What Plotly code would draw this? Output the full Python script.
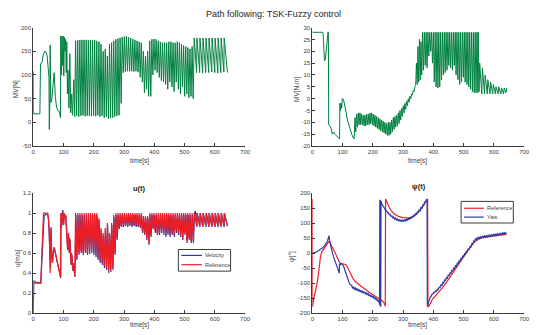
import plotly.graph_objects as go

# ---------------- data ----------------
mvn_t = [0, 0.5, 22, 24, 29, 33, 38, 42, 46, 50, 52, 53, 55, 56, 58, 61, 65, 69, 73, 77, 82, 87, 90,
         91, 93, 95, 97, 99, 101, 103, 105, 107, 109, 111, 113, 115, 118, 121, 124, 127, 130, 134, 137,
         140, 143.5, 147, 150.5, 154, 157.5, 161, 164.5, 168, 171.5, 175, 178.5, 182, 185.5, 189, 192.5,
         196, 199.5, 203, 206.5, 210, 213.5, 217, 220.5, 224, 227.5, 231, 234.5, 238, 241.5, 245, 248.5,
         252, 255.5, 259, 262.5, 266, 269.5, 273, 276.5, 280, 283.5, 287, 290.5, 294, 297.5,
         301, 304.5, 308, 311.5, 315, 318.5, 322, 325.5, 329, 332.5, 336, 339.5, 343, 346.5, 350, 353.5,
         357, 360.5, 364, 367.5, 371, 374.5, 378, 381.5, 385, 388.5, 392, 395.5, 399, 402.5, 406, 409.5,
         413, 416.5, 420, 423.5, 427, 430.5, 434, 437.5, 441, 444.5, 448, 451.5, 455, 458.5, 462, 465.5,
         469, 472.5, 476, 479.5, 483, 486.5, 490, 493.5, 497, 500.5, 504, 507.5, 511, 514.5, 518, 521.5,
         525, 528.5,
         532, 540, 541, 550, 551, 560, 561, 570, 571, 580, 581, 590, 591, 600, 601, 610, 611, 620, 621,
         630, 631, 642]
mvn_v = [108, 18, 18, 124, 126, 142, 150, 149, 140, 118, 95, -15, 45, 163, 42, 45, 75, 105, 55, 32, 25, 23, 10,
         182, 100, 182, 120, 182, 98, 180, 150, 175, 105, 170, 60, 110, 30, 145, 20, 60, 15, 90, 12,
         172, 14, 173, 12, 174, 14, 174, 15, 174, 13, 174, 14, 173, 14, 174, 13,
         173, 14, 174, 13, 172, 15, 170, 12, 165, 14, 150, 10, 155, 12, 140, 8,
         165, 9, 168, 10, 172, 12, 175, 14, 177, 15, 178, 40, 180, 105,
         181, 107, 182, 108, 180, 108, 178, 108, 176, 107, 174, 108, 172, 106, 170, 95,
         168, 85, 150, 62, 140, 70, 150, 55, 172, 55, 175, 100, 176, 110, 175, 105,
         172, 95, 170, 88, 168, 85, 168, 80, 168, 70, 170, 85, 170, 75, 168, 65,
         168, 85, 170, 70, 168, 60, 165, 75, 162, 55, 160, 60, 158, 52, 155, 55,
         160, 50,
         178, 105, 178, 105, 178, 104, 178, 105, 178, 105, 178, 106, 178, 105, 178, 104, 178, 105,
         178, 106, 178, 105]

mvnm_t = [0, 35, 37, 40, 43, 46, 50, 52, 53, 54, 58, 62, 66, 70, 75, 81, 86, 90, 91, 93, 95, 97, 99, 101,
          104, 108, 112, 116, 120, 125, 130, 135, 138,
          141, 143.5, 146.5, 149, 152, 154.5, 157.5, 160, 163, 165.5, 168.5, 171, 174, 176.5, 179.5, 182,
          185, 187.5, 190.5, 193, 196, 198.5, 201.5, 204, 207, 209.5, 212.5, 215, 218, 220.5, 223.5, 226,
          229, 231.5, 234.5, 237, 240, 242.5, 245.5, 248, 251, 253.5, 256.5, 259, 262, 264.5, 267.5, 270,
          273, 275.5, 278.5, 281, 284, 286.5, 289.5, 292, 295, 297.5, 300.5, 303, 306, 308.5, 311.5, 314,
          317, 319.5, 322.5, 325, 328, 330.5, 333.5, 336, 339, 341.5,
          344, 346.5, 349, 351.5, 354, 356.5, 359, 361.5, 364, 367, 370, 373, 376, 379, 382, 385, 388, 391,
          394, 397, 400, 403, 406, 409, 412, 415, 418, 421, 424, 427, 430, 433, 436, 439, 442, 445, 448,
          451, 454, 457, 460, 463, 466, 469, 472, 475, 478, 481, 484, 487, 490, 493, 496, 499, 502, 505,
          508, 511, 514, 517, 520, 523, 526, 529, 532, 535, 538, 541, 544, 547, 548,
          551, 553, 560, 562, 569, 571, 578, 580, 587, 589, 596, 598, 605, 607, 614, 616, 623, 625, 632,
          634, 640, 642]
mvnm_v = [28, 28, 24, 16, 16.5, 20, 27, 28.2, 27, -11, -11.5, -12.5, -15, -14, -15, -16, -16.5, -17, -2, -5,
          -1.8, -4, 0, 0, -1, -3, -6, -9, -11, -13, -15, -16.5, -17,
          -8, -14, -6.5, -12, -6, -11, -6, -11, -6.5, -11, -7, -11.5, -7, -11.5, -6.5, -11,
          -6.5, -11, -6, -10.5, -6, -11, -6.5, -11.5, -7, -12, -7.5, -12.5, -8, -13, -8.5, -13.5,
          -9, -14, -9.5, -14.5, -10, -15, -10.5, -15.5, -10, -15.5, -10, -15, -9, -14, -8, -13,
          -7.5, -12, -7, -11.5, -6, -10.5, -5, -9, -4, -7.5, -3, -6, -2, -4.5, -1, -3,
          0, -1.5, 1, 0, 2, 1.5, 3.5, 3, 5, 5.5,
          15, 6, 22, 7, 25, 8, 24, 10, 28, 12, 28, 14, 28, 13, 28, 18, 28, 20,
          28, 15, 28, 7, 28, 5, 28, 4.5, 28, 5, 28, 8, 28, 10, 28, 11, 28, 12, 28,
          14, 28, 13, 28, 12, 28, 14, 28, 10, 28, 8, 28, 6, 28, 7, 28, 9, 28, 7,
          28, 6, 28, 5, 28, 4, 28, 3, 28, 2.5, 28, 2.5, 28, 2.5, 28,
          3, 15, 2, 13, 2, 10, 2, 8, 2, 7, 2, 6, 2, 5, 2, 5, 2, 4.5, 2,
          4.5, 2.5, 4.5]

u_ref_t = [0, 25, 28, 31, 34, 48, 50, 53, 55, 56, 57, 58, 60, 63, 66, 69, 72, 76, 80, 84, 88, 90,
           91, 93, 95, 97, 99, 101, 103, 105, 107, 110, 113, 116, 118, 121, 124, 127, 130, 133, 137,
           140, 143.5, 147, 150.5, 154, 157.5, 161, 164.5, 168, 171.5, 175, 178.5, 182, 185.5, 189, 192.5,
           196, 199.5, 203, 206.5, 210, 213.5, 217, 220.5, 224, 227.5, 231, 234.5, 238, 241.5, 245, 248.5,
           252, 255.5, 259, 262.5, 266, 269.5, 273, 276.5, 280, 283.5, 287, 290.5, 294, 297.5, 301, 304.5,
           308, 311.5, 315, 318.5, 322, 325.5, 329, 332.5, 336, 339.5, 343, 346.5, 350, 353.5, 357, 360.5,
           364, 367.5, 371, 374.5, 378, 381.5, 385, 388.5, 392, 395.5, 399, 402.5, 406, 409.5, 413, 416.5,
           420, 423.5, 427, 430.5, 434, 437.5, 441, 444.5, 448, 451.5, 455, 458.5, 462, 465.5, 469, 472.5,
           476, 479.5, 483, 486.5, 490, 493.5, 497, 500.5, 504, 507.5, 511, 514.5, 518, 521.5, 525, 528.5,
           532, 540, 541, 550, 551, 560, 561, 570, 571, 580, 581, 590, 591, 600, 601, 610, 611, 620, 621,
           630, 631, 642]
u_ref_v = [0.3, 0.3, 0.55, 0.8, 1.0, 1.0, 0.95, 0.8, 0.55, 0.4, 0.7, 0.84, 0.6, 0.5, 0.62, 0.66, 0.62, 0.55,
           0.5, 0.45, 0.4, 0.36,
           1.0, 0.85, 1.0, 0.9, 1.0, 0.88, 1.0, 0.95, 0.98, 0.85, 0.65, 0.8, 0.62, 0.75, 0.5, 0.6, 0.44, 0.5, 0.37,
           1.0, 0.55, 1.0, 0.6, 1.0, 0.62, 1.0, 0.6, 1.0, 0.62, 1.0, 0.6, 1.0, 0.61, 1.0, 0.62,
           1.0, 0.6, 1.0, 0.58, 1.0, 0.55, 0.95, 0.52, 0.85, 0.5, 0.8, 0.47, 0.85, 0.45, 0.9, 0.42,
           0.8, 0.43, 0.9, 0.45, 0.98, 0.6, 1.0, 0.75, 1.0, 0.85, 1.0, 0.87, 1.0, 0.87, 1.0, 0.88,
           1.0, 0.87, 1.0, 0.88, 1.0, 0.87, 1.0, 0.88, 1.0, 0.87, 1.0, 0.87, 1.0, 0.86, 1.0, 0.82,
           0.97, 0.8, 0.97, 0.75, 0.97, 0.7, 1.0, 0.78, 1.0, 0.85, 1.0, 0.82, 1.0, 0.8, 1.0, 0.8,
           1.0, 0.82, 1.0, 0.8, 1.0, 0.78, 1.0, 0.8, 1.0, 0.78, 1.0, 0.8, 1.0, 0.78, 1.0, 0.82,
           1.0, 0.8, 1.0, 0.78, 1.0, 0.75, 1.0, 0.8, 1.0, 0.72, 1.0, 0.75, 1.0, 0.72, 1.0, 0.72,
           1.0, 0.87, 1.0, 0.87, 1.0, 0.87, 1.0, 0.87, 1.0, 0.87, 1.0, 0.87, 1.0, 0.87, 1.0, 0.87, 1.0, 0.87, 1.0,
           0.87, 1.0, 0.87]

u_vel_t = [0, 2, 8, 25, 29, 32, 36, 42, 48, 51, 54, 56, 57, 58, 59, 61, 64, 67, 70, 73, 77, 81, 85, 89, 91,
           92, 94, 96, 98, 100, 102, 104, 106, 108, 111, 114, 117, 119, 122, 125, 128, 131, 134, 138,
           141, 144.5, 148, 151.5, 155, 158.5, 162, 165.5, 169, 172.5, 176, 179.5, 183, 186.5, 190, 193.5,
           197, 200.5, 204, 207.5, 211, 214.5, 218, 221.5, 225, 228.5, 232, 235.5, 239, 242.5, 246, 249.5,
           253, 256.5, 260, 263.5, 267, 270.5, 274, 277.5, 281, 284.5, 288, 291.5, 295, 298.5, 302, 305.5,
           309, 312.5, 316, 319.5, 323, 326.5, 330, 333.5, 337, 340.5, 344, 347.5, 351, 354.5, 358, 361.5,
           365, 368.5, 372, 375.5, 379, 382.5, 386, 389.5, 393, 396.5, 400, 403.5, 407, 410.5, 414, 417.5,
           421, 424.5, 428, 431.5, 435, 438.5, 442, 445.5, 449, 452.5, 456, 459.5, 463, 466.5, 470, 473.5,
           477, 480.5, 484, 487.5, 491, 494.5, 498, 501.5, 505, 508.5, 512, 515.5, 519, 522.5, 526, 529.5,
           533, 536, 541, 542, 551, 552, 561, 562, 571, 572, 581, 582, 591, 592, 601, 602, 611, 612, 621,
           622, 631, 632, 642]
u_vel_v = [0, 0.32, 0.31, 0.3, 0.55, 0.8, 0.97, 0.99, 0.98, 0.93, 0.75, 0.5, 0.45, 0.7, 0.86, 0.58, 0.5, 0.62,
           0.65, 0.6, 0.53, 0.48, 0.43, 0.38, 0.35,
           0.95, 0.86, 1.0, 1.03, 0.88, 0.98, 0.95, 0.97, 0.97, 0.82, 0.63, 0.78, 0.6, 0.73, 0.48, 0.58, 0.42, 0.48, 0.36,
           0.98, 0.53, 0.98, 0.58, 0.98, 0.6, 0.98, 0.58, 0.98, 0.6, 0.98, 0.58, 0.98, 0.59, 0.98, 0.6,
           0.98, 0.58, 0.98, 0.56, 0.98, 0.53, 0.93, 0.5, 0.83, 0.48, 0.78, 0.45, 0.83, 0.43, 0.88, 0.4,
           0.78, 0.41, 0.88, 0.43, 0.96, 0.58, 0.98, 0.73, 0.98, 0.84, 0.98, 0.86, 0.98, 0.86, 0.98, 0.87,
           0.98, 0.86, 0.98, 0.87, 0.98, 0.86, 0.98, 0.87, 0.98, 0.86, 0.98, 0.86, 0.98, 0.85, 0.98, 0.8,
           0.95, 0.78, 0.95, 0.73, 0.95, 0.68, 0.98, 0.76, 0.98, 0.84, 0.98, 0.8, 0.98, 0.78, 0.98, 0.78,
           0.98, 0.8, 0.98, 0.78, 0.98, 0.76, 0.98, 0.78, 0.98, 0.76, 0.98, 0.78, 0.98, 0.76, 0.98, 0.8,
           0.98, 0.78, 0.98, 0.76, 0.98, 0.73, 0.98, 0.78, 0.98, 0.7, 0.98, 0.73, 0.98, 0.7, 0.98, 0.7,
           1.0, 1.02, 0.86, 1.0, 0.86, 1.0, 0.86, 1.0, 0.86, 1.0, 0.86, 1.0, 0.86, 1.0, 0.86, 1.0, 0.86, 1.0, 0.86,
           1.0, 0.86, 1.0, 0.87]

psi_ref_t = [0, 0.5, 5, 10, 16, 22, 27, 32, 38, 45, 50, 54, 58, 62, 66, 70, 75, 80, 85, 90, 95, 100, 105,
             110, 115, 120, 125, 130, 136, 145, 157, 170, 180, 190, 200, 210, 222, 232, 238, 241,
             242, 246, 250, 255, 262, 271, 285, 298, 315, 331, 343, 353, 362, 372, 378, 381,
             382, 388, 396, 405, 418, 430, 445, 458, 472, 483, 494, 505, 515, 526, 537, 548, 559, 580,
             602, 620, 642]
psi_ref_v = [180, -180, -150, -125, -100, -55, -10, 5, 15, 25, 32, 38, 35, 28, 18, 10, 2, -10, -20, -32,
             -35, -36, -36, -38, -45, -55, -68, -78, -88, -98, -108, -118, -125, -132, -138, -145, -152,
             -160, -168, -178,
             180, 170, 160, 150, 140, 130, 122, 118, 117, 120, 128, 138, 150, 165, 175, 180,
             -180, -172, -155, -145, -130, -115, -95, -75, -55, -38, -20, -5, 10, 25, 38, 45, 50, 54,
             58, 60, 62]

psi_yaw_t = [0, 5, 10, 16, 22, 28, 33, 40, 45, 50, 53, 55, 57, 60, 65, 70, 76, 82, 87, 89, 90, 92, 95, 98,
             100, 103, 107, 111, 114, 118, 122, 126,
             130, 133, 136, 139, 142, 145, 148, 151, 154, 157, 160, 163, 166, 169, 172, 175, 178, 181, 184,
             187, 190, 193, 196, 199, 202, 205, 208, 211, 214, 217, 220, 222, 223, 224, 225, 226, 227,
             230, 233, 236, 239, 242, 245, 248, 251, 254, 257, 260, 263, 266, 269, 272, 275, 278, 281, 284,
             287, 290, 293, 296, 299, 302, 305, 308, 311, 314, 317, 320, 323, 326, 329, 332, 335, 338, 341,
             344, 347, 350, 353, 356, 359, 362, 365, 368, 371, 374, 377, 379,
             380, 382, 384, 386, 389, 392, 395, 398, 401, 404, 407, 410, 413, 416, 419, 422, 425, 428, 431,
             434, 437, 440, 443, 446, 449, 452, 455, 458, 461, 464, 467, 470, 473, 476, 479, 482, 485, 488,
             491, 494, 497, 500, 503, 506, 509, 512, 515, 518, 521, 524, 527, 530, 533, 536, 539, 542, 545,
             548, 551, 554, 557, 560, 563, 566, 569, 572, 575, 578, 581, 584, 587, 590, 593, 596, 599, 602,
             605, 608, 611, 614, 617, 620, 623, 626, 629, 632, 635, 638, 642]
psi_yaw_v = [0, 0.5, 2, 5, 9, 13, 17, 24, 31, 40, 50, 58, 42, 26, 6, -12, -32, -50, -62, -67, -35, -39, -35,
             -36, -38, -43, -55, -68, -78, -90, -100, -106,
             -108, -118, -112, -122, -115, -124, -118, -127, -121, -129, -124, -132, -126, -134, -129, -137,
             -131, -140, -134, -143, -138, -146, -141, -149, -144, -153, -148, -157, -152, -162, -158, -172,
             178, -176, 176, -179, 174,
             163, 158, 152, 150, 143, 142, 135, 135, 128, 129, 122, 124, 117, 120, 113, 117, 110, 114, 107,
             112, 105, 111, 104, 111, 105, 112, 106, 114, 108, 116, 111, 119, 114, 123, 118, 127, 123, 132,
             128, 138, 134, 144, 141, 152, 150, 160, 160, 170, 170, 178, 176,
             -178, -170, -160, -158, -148, -146, -138, -138, -131, -132, -126, -128, -121, -122, -114, -115,
             -106, -108, -98, -100, -90, -92, -82, -84, -74, -76, -66, -68, -58, -60, -50, -52, -42, -44,
             -34, -36, -26, -28, -18, -20, -10, -12, -2, -4, 6, 4, 14, 12, 22, 20, 31, 29, 40, 38, 48, 44,
             51, 47, 53, 49, 55, 51, 56, 52, 57, 53, 58, 54, 59, 55, 60, 56, 61, 57, 62, 58, 63, 59, 64, 60,
             65, 61, 66, 62, 67, 63, 68, 64, 68]

time_ticks = [0, 100, 200, 300, 400, 500, 600, 700]
mvn_ticks = [-50, 0, 50, 100, 150, 200]
mvnm_ticks = [-20, -15, -10, -5, 0, 5, 10, 15, 20, 25, 30]
u_ticks = [0, 0.2, 0.4, 0.6, 0.8, 1, 1.2]
psi_ticks = [-200, -150, -100, -50, 0, 50, 100, 150, 200]

u_legend_names = ["Velocity", "Reference"]
psi_legend_names = ["Reference", "Yaw"]

# ---------------- styling ----------------
GREEN = "rgb(0,128,64)"
RED = "rgb(235,30,40)"
BLUE = "rgb(45,60,165)"
AXC = "#3a3a3a"
TXT = "#404040"
FONT = "Liberation Sans, Arial, sans-serif"

W, H = 541, 335
def px(x): return x / W
def py(y): return 1 - y / H

fig = go.Figure()
fig.add_trace(go.Scatter(x=mvn_t, y=mvn_v, mode="lines", name="MV[N]", line=dict(color=GREEN, width=1),
                         xaxis="x", yaxis="y", showlegend=False))
fig.add_trace(go.Scatter(x=mvnm_t, y=mvnm_v, mode="lines", name="MV[N.m]", line=dict(color=GREEN, width=1),
                         xaxis="x2", yaxis="y2", showlegend=False))
fig.add_trace(go.Scatter(x=u_vel_t, y=u_vel_v, mode="lines", name=u_legend_names[0],
                         line=dict(color=BLUE, width=1.2), xaxis="x3", yaxis="y3", showlegend=False))
fig.add_trace(go.Scatter(x=u_ref_t, y=u_ref_v, mode="lines", name=u_legend_names[1],
                         line=dict(color=RED, width=1.2), xaxis="x3", yaxis="y3", showlegend=False))
fig.add_trace(go.Scatter(x=psi_ref_t, y=psi_ref_v, mode="lines", name=psi_legend_names[0],
                         line=dict(color=RED, width=1.2), xaxis="x4", yaxis="y4", showlegend=False))
fig.add_trace(go.Scatter(x=psi_yaw_t, y=psi_yaw_v, mode="lines", name=psi_legend_names[1],
                         line=dict(color=BLUE, width=1.2), xaxis="x4", yaxis="y4", showlegend=False))

def fmt(v):
    return "%g" % v

xl, xr = px(31.7), px(246.7)
xl2, xr2 = px(315), px(530)
yt1, yb1 = py(25), py(145.7)
yt2, yb2 = py(193.5), py(315.7)

def axis(domain, anchor, rng, ticks):
    return dict(domain=domain, anchor=anchor, range=rng, tickmode="array", tickvals=ticks,
                ticktext=[fmt(t) for t in ticks], ticks="inside", ticklen=3, tickwidth=1,
                tickcolor=AXC, showline=True, linecolor=AXC, linewidth=1, mirror=False,
                showgrid=False, zeroline=False, tickfont=dict(size=6, color=TXT, family=FONT),
                fixedrange=True)

fig.update_layout(
    width=W, height=H, margin=dict(l=0, r=0, t=0, b=0),
    paper_bgcolor="white", plot_bgcolor="white",
    font=dict(family=FONT, color=TXT),
    showlegend=False,
    xaxis=axis([xl, xr], "y", [0, 700], time_ticks),
    yaxis=axis([yb1, yt1], "x", [-50, 200], mvn_ticks),
    xaxis2=axis([xl2, xr2], "y2", [0, 700], time_ticks),
    yaxis2=axis([yb1, yt1], "x2", [-20, 30], mvnm_ticks),
    xaxis3=axis([xl, xr], "y3", [0, 700], time_ticks),
    yaxis3=axis([yb2, yt2], "x3", [0, 1.2], u_ticks),
    xaxis4=axis([xl2, xr2], "y4", [0, 700], time_ticks),
    yaxis4=axis([yb2, yt2], "x4", [-200, 200], psi_ticks),
)

def ann(text, x, y, size=6, angle=0, bold=False, color=TXT, xanchor="center"):
    if bold:
        text = "<b>" + text + "</b>"
    fig.add_annotation(text=text, x=x, y=y, xref="paper", yref="paper", showarrow=False,
                       xanchor=xanchor, yanchor="middle", textangle=angle,
                       font=dict(size=size, color=color, family=FONT))

ann("Path following: TSK-Fuzzy control", px(275.5), py(11.5), size=9, color="#262626")
ann("time[s]", px(140), py(161), size=6.5)
ann("time[s]", px(422), py(161), size=6.5)
ann("time[s]", px(140), py(327.5), size=6.5)
ann("time[s]", px(422), py(327.5), size=6.5)
ann("MV[N]", px(15), py(88), size=6.5, angle=-90)
ann("MV[N.m]", px(300), py(88), size=6.5, angle=-90)
ann("u[m/s]", px(17), py(260), size=6.5, angle=-90)
ann("\u03c8[\u00b0]", px(295), py(258), size=6.5, angle=-90)
ann("u(t)", px(139.5), py(189), size=7.5, bold=True, color="#262626")
ann("\u03c8(t)", px(423), py(187), size=7.5, bold=True, color="#262626")

# ---------------- legends (box, line samples, labels) ----------------
def legend_box(x0, y0, x1, y1, names, colors, ys, lx0, lx1, tx):
    fig.add_shape(type="rect", xref="paper", yref="paper", x0=px(x0), x1=px(x1), y0=py(y1), y1=py(y0),
                  line=dict(color=AXC, width=1), fillcolor="white", layer="above")
    for n, c, yy in zip(names, colors, ys):
        fig.add_shape(type="line", xref="paper", yref="paper", x0=px(lx0), x1=px(lx1), y0=py(yy), y1=py(yy),
                      line=dict(color=c, width=1.2), layer="above")
        ann(n, px(tx), py(yy), size=5.5, xanchor="left")

legend_box(179, 251, 232, 273, u_legend_names, [BLUE, RED], [257, 266.5], 182, 203, 204)
legend_box(466, 202, 519, 224, psi_legend_names, [RED, BLUE], [209, 218], 469, 489, 490)

fig.write_html("out.html")
